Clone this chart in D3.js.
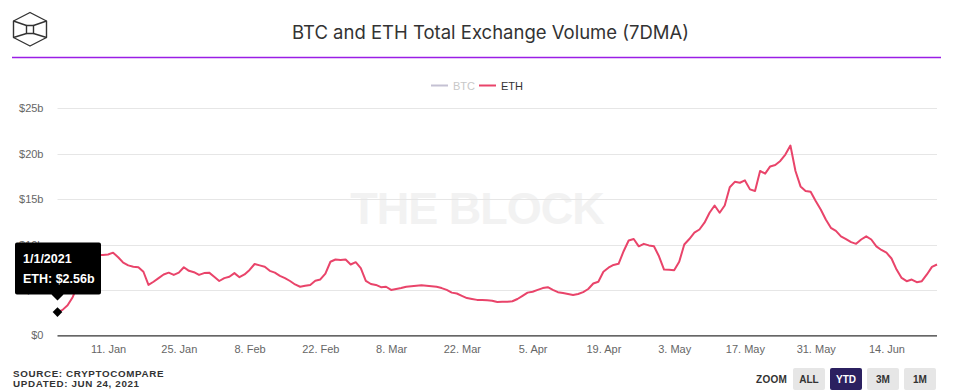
<!DOCTYPE html>
<html>
<head>
<meta charset="utf-8">
<script src="https://cdn.jsdelivr.net/npm/d3@7"></script>
<style>
  html, body { margin: 0; padding: 0; background: #fff; }
  svg { display: block; }
</style>
</head>
<body>
<svg id="chart" width="953" height="390"></svg>
<script>
// ---------------- DATA ----------------
const titleText = "BTC and ETH Total Exchange Volume (7DMA)";
const startDate = "2021-01-01";
const ethValues = [
  2.56, 2.8, 3.3, 4.2, 5.5, 6.8, 7.8, 8.5, 8.85, 8.85,
  8.9, 9.1, 8.6, 8.0, 7.7, 7.55, 7.5, 7.0, 5.55, 5.9,
  6.3, 6.7, 6.9, 6.65, 6.9, 7.5, 7.1, 6.95, 6.65, 6.85,
  6.9, 6.45, 5.98, 6.3, 6.45, 6.85, 6.4, 6.7, 7.2, 7.85,
  7.7, 7.55, 7.1, 6.9, 6.55, 6.3, 5.98, 5.6, 5.35, 5.45,
  5.55, 6.0, 6.15, 6.8, 8.1, 8.35, 8.3, 8.35, 7.8, 8.05,
  7.4, 6.0, 5.65, 5.55, 5.3, 5.35, 5.0, 5.1, 5.2, 5.35,
  5.4, 5.45, 5.5, 5.45, 5.4, 5.35, 5.2, 5.0, 4.7, 4.6,
  4.35, 4.1, 4.0, 3.9, 3.9, 3.85, 3.8, 3.67, 3.7, 3.7,
  3.75, 4.0, 4.35, 4.7, 4.8, 5.0, 5.2, 5.3, 5.0, 4.75,
  4.65, 4.55, 4.45, 4.55, 4.75, 5.1, 5.7, 5.9, 7.0, 7.45,
  7.75, 7.87, 9.26, 10.44, 10.6, 9.8, 10.07, 9.9, 9.8, 8.7,
  7.24, 7.22, 7.17, 8.1, 10.0, 10.6, 11.3, 11.65, 12.4, 13.5,
  14.3, 13.5, 14.3, 16.3, 16.9, 16.8, 17.06, 16.07, 15.9, 18.1,
  17.8, 18.6, 18.75, 19.2, 19.9, 20.9, 18.1, 16.4, 15.9, 15.8,
  14.8, 13.86, 12.76, 11.84, 11.5, 10.9, 10.6, 10.26, 10.07, 10.55,
  10.9, 10.55, 9.8, 9.4, 9.1, 8.46, 7.24, 6.32, 5.96, 6.14,
  5.85, 5.96, 6.7, 7.54, 7.8
];
const yTicks = [0, 5, 10, 15, 20, 25];
const yTickLabels = ["$0", "$5b", "$10b", "$15b", "$20b", "$25b"];
const xTickDates = ["2021-01-11", "2021-01-25", "2021-02-08", "2021-02-22", "2021-03-08", "2021-03-22",
                    "2021-04-05", "2021-04-19", "2021-05-03", "2021-05-17", "2021-05-31", "2021-06-14"];
const xTickLabels = ["11. Jan", "25. Jan", "8. Feb", "22. Feb", "8. Mar", "22. Mar",
                     "5. Apr", "19. Apr", "3. May", "17. May", "31. May", "14. Jun"];
const legendNames = ["BTC", "ETH"];
const zoomButtons = ["ALL", "YTD", "3M", "1M"];
const sourceLines = ["SOURCE: CRYPTOCOMPARE", "UPDATED: JUN 24, 2021"];

// ---------------- BUILD ----------------
const parse = d3.utcParse("%Y-%m-%d");
const t0 = parse(startDate);
const data = ethValues.map((v, i) => ({ date: d3.utcDay.offset(t0, i), value: v }));

const svg = d3.select("#chart");
const FONT = "'Liberation Sans', Arial, sans-serif";

const plotLeft = 57.5, plotRight = 937, plotTop = 108.3, plotBottom = 335.3;

const x = d3.scaleUtc()
  .domain([data[0].date, data[data.length - 1].date])
  .range([plotLeft, plotRight]);
const y = d3.scaleLinear().domain([0, 25]).range([plotBottom, plotTop]);

// Header: logo
const logo = svg.append("g").attr("fill", "none").attr("stroke", "#333").attr("stroke-width", 1.4)
  .attr("stroke-linejoin", "round");
const outer = [[30, 12.5], [46.5, 21], [46.5, 37.5], [30, 46], [13.5, 37.5], [13.5, 21]];
logo.append("path").attr("d", "M" + outer.map(p => p.join(",")).join("L") + "Z");
const inner = [[26.5, 25.5], [33.5, 25.5], [33.5, 33.5], [26.5, 33.5]];
logo.append("path").attr("d", "M" + inner.map(p => p.join(",")).join("L") + "Z");
logo.append("path").attr("d",
  `M13.5,21L26.5,25.5M46.5,21L33.5,25.5M13.5,37.5L26.5,33.5M46.5,37.5L33.5,33.5`);

// Title
svg.append("text")
  .attr("x", 490.5).attr("y", 38.5)
  .attr("text-anchor", "middle")
  .attr("font-family", "Inter, 'Open Sans', sans-serif")
  .attr("font-size", 18.5)
  .attr("fill", "#333")
  .text(titleText);

// purple rule
svg.append("line").attr("x1", 12).attr("x2", 941).attr("y1", 57.5).attr("y2", 57.5)
  .attr("stroke", "#9a1ee6").attr("stroke-width", 1.6);

// Legend
const legend = svg.append("g").attr("font-family", FONT).attr("font-size", 11);
const legendItems = [
  { name: legendNames[0], x0: 431, color: "#c4c1d3", text: "#c8c8c8" },
  { name: legendNames[1], x0: 479, color: "#e9446a", text: "#333" }
];
legendItems.forEach(it => {
  legend.append("line").attr("x1", it.x0).attr("x2", it.x0 + 17).attr("y1", 85.5).attr("y2", 85.5)
    .attr("stroke", it.color).attr("stroke-width", 2);
  legend.append("text").attr("x", it.x0 + 22).attr("y", 89.5).attr("fill", it.text).text(it.name);
});

// Watermark
svg.append("text")
  .attr("x", 477).attr("y", 223.5)
  .attr("text-anchor", "middle")
  .attr("font-family", FONT)
  .attr("font-weight", "bold")
  .attr("font-size", 45)
  .attr("letter-spacing", -1)
  .attr("fill", "#f2f2f2")
  .text("THE BLOCK");

// Grid lines
svg.append("g").selectAll("line")
  .data(yTicks.filter(t => t > 0))
  .join("line")
  .attr("x1", plotLeft).attr("x2", plotRight)
  .attr("y1", d => Math.round(y(d)) + 0.5).attr("y2", d => Math.round(y(d)) + 0.5)
  .attr("stroke", "#e6e6e6").attr("stroke-width", 1);

// Y axis labels
const yAxis = d3.axisLeft(y).tickValues(yTicks)
  .tickFormat((d, i) => yTickLabels[i]).tickSize(0).tickPadding(0);
const yg = svg.append("g").attr("transform", "translate(43.5,0)").call(yAxis);
yg.select(".domain").remove();
yg.selectAll("text").attr("font-family", FONT).attr("font-size", 11).attr("fill", "#666");

// X axis
const xAxis = d3.axisBottom(x)
  .tickValues(xTickDates.map(parse))
  .tickFormat((d, i) => xTickLabels[i])
  .tickSize(0).tickPadding(10);
const xg = svg.append("g").attr("transform", `translate(0,${plotBottom})`).call(xAxis);
xg.select(".domain").attr("stroke", "#333").attr("stroke-width", 1.2)
  .attr("d", `M${plotLeft},0.5H${plotRight}`);
xg.selectAll("text").attr("font-family", FONT).attr("font-size", 11).attr("fill", "#666");

// ETH line
const line = d3.line().x(d => x(d.date)).y(d => y(d.value));
svg.append("path").datum(data)
  .attr("d", line)
  .attr("fill", "none")
  .attr("stroke", "#e9446a")
  .attr("stroke-width", 2)
  .attr("stroke-linejoin", "round");

// Hover marker (diamond)
const p0 = data[0];
svg.append("path")
  .attr("d", d3.symbol(d3.symbolDiamond2, 60)())
  .attr("transform", `translate(${x(p0.date)},${y(p0.value)})`)
  .attr("fill", "#000");

// Tooltip
const fmtDate = d3.utcFormat("%-m/%-d/%Y");
const tipX = x(p0.date);
const tip = svg.append("g");
tip.append("path")
  .attr("d", `M17,242.5 H99 a2,2 0 0 1 2,2 V292.5 a2,2 0 0 1 -2,2 H${tipX + 6} L${tipX},${300.5} L${tipX - 6},294.5 H17 a2,2 0 0 1 -2,-2 V244.5 a2,2 0 0 1 2,-2 Z`)
  .attr("fill", "#000");
tip.append("text").attr("x", 23).attr("y", 262.5)
  .attr("font-family", FONT).attr("font-weight", "bold").attr("font-size", 12.5)
  .attr("fill", "#fff").text(fmtDate(p0.date));
tip.append("text").attr("x", 23).attr("y", 282.5)
  .attr("font-family", FONT).attr("font-weight", "bold").attr("font-size", 12.5)
  .attr("fill", "#fff").text(`${legendNames[1]}: $${p0.value.toFixed(2)}b`);

// Source
const src = svg.append("g").attr("font-family", FONT).attr("font-weight", "bold")
  .attr("font-size", 9.8).attr("fill", "#333").attr("letter-spacing", 0.65);
sourceLines.forEach((s, i) => {
  src.append("text").attr("x", 13).attr("y", 376.5 + i * 10.5).text(s);
});

// Zoom buttons
const zg = svg.append("g").attr("font-family", FONT).attr("font-weight", "bold").attr("font-size", 10);
zg.append("text").attr("x", 756).attr("y", 383).attr("fill", "#333").attr("letter-spacing", 0.3).text("ZOOM");
const btnX = [793, 830, 867, 904];
zoomButtons.forEach((b, i) => {
  const active = b === "YTD";
  zg.append("rect").attr("x", btnX[i]).attr("y", 368).attr("width", 32).attr("height", 22)
    .attr("rx", 2).attr("fill", active ? "#2b2060" : "#e6e6e6");
  zg.append("text").attr("x", btnX[i] + 16).attr("y", 383).attr("text-anchor", "middle")
    .attr("fill", active ? "#fff" : "#333").text(b);
});
</script>
</body>
</html>
